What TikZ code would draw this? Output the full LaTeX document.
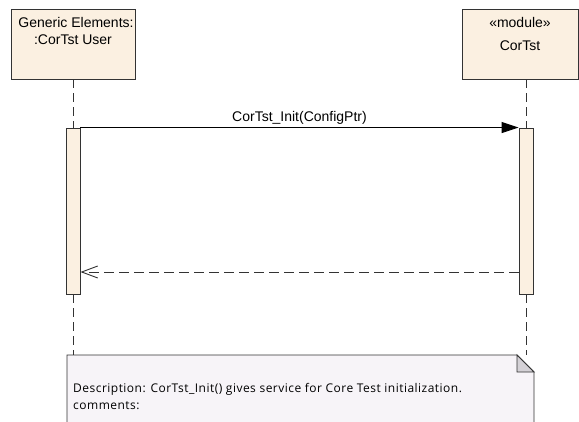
\documentclass[tikz,border=0pt]{standalone}
\usepackage{fontspec}
\setmainfont{Liberation Sans}
\newfontfamily\notefont[LetterSpace = 4]{Open Sans}
\usetikzlibrary{arrows.meta}
\definecolor{objfill}{HTML}{FBF0E1}
\definecolor{notefill}{HTML}{F7F4F8}
\definecolor{foldfill}{HTML}{D4D1D6}
\definecolor{linegray}{HTML}{333333}
\tikzset{
  object/.style = {draw = linegray, fill = objfill, line width = 0.9pt, inner sep = 0pt},
  activation/.style = {object, minimum width = 14pt, minimum height = 166pt},
  lifeline/.style = {draw = linegray, line width = 0.9pt, dash pattern = on 9pt off 5pt},
  label/.style = {font = \fontsize{14}{16}\selectfont, inner sep = 0pt, anchor = base},
  notetext/.style = {font = \notefont\fontsize{12}{14}\selectfont, inner sep = 0pt, anchor = base west},
  call/.style = {draw = black, line width = 0.9pt, -{Triangle[length = 17pt, width = 11pt]}},
  reply/.style = {draw = linegray, line width = 0.9pt, dash pattern = on 10pt off 5pt,
    -{Straight Barb[length = 16pt, width = 12pt, line width = 0.9pt]}}
}
\begin{document}
\begin{tikzpicture}[x = 1pt, y = -1pt]
      \clip (0, 0) rectangle (579, 421);
      \node [object, minimum width = 124pt, minimum height = 70pt] (user) at (73, 44) {};
      \node [object, minimum width = 116pt, minimum height = 70pt] (module) at (520, 44) {};
      \node [label] (usertitle) at (76, 27) {Generic Elements:};
      \node [label] (username) at (73, 44) {:CorTst User};
      \node [label] (stereo) at (520, 27) {«module»};
      \node [label] (modulename) at (520, 50) {CorTst};
      \node [activation] (userbar) at (73, 211) {};
      \node [activation] (modulebar) at (526, 211) {};
      \coordinate (userend) at (73, 355);
      \coordinate (moduleend) at (526, 355);
      \coordinate (replyline) at (0, 272);
      \draw [lifeline] (user.south) -- (userbar.north);
      \draw [lifeline] (module.south -| modulebar) -- (modulebar.north);
      \draw [lifeline] (userbar.south) -- (userend);
      \draw [lifeline] (modulebar.south) -- (moduleend);
      \draw [call] (userbar.north east) -- (modulebar.north west)
        node [label, midway, yshift = 6pt] (calllabel) {CorTst\_Init(ConfigPtr)};
      \draw [reply] (modulebar.west |- replyline) -- (userbar.east |- replyline);
      \draw [draw = linegray, fill = notefill, line width = 0.9pt]
        (67, 355) -- (517, 355) -- (534, 372) -- (534, 430) -- (67, 430) -- cycle;
      \draw [draw = linegray, fill = foldfill, line width = 0.9pt]
        (517, 355) -- (517, 372) -- (534, 372) -- cycle;
      \node [notetext] (description) at (73, 392)
        {Description: CorTst\_Init() gives service for Core Test initialization.};
      \node [notetext] (comments) at (73, 409) {comments:};
\end{tikzpicture}
\end{document}
